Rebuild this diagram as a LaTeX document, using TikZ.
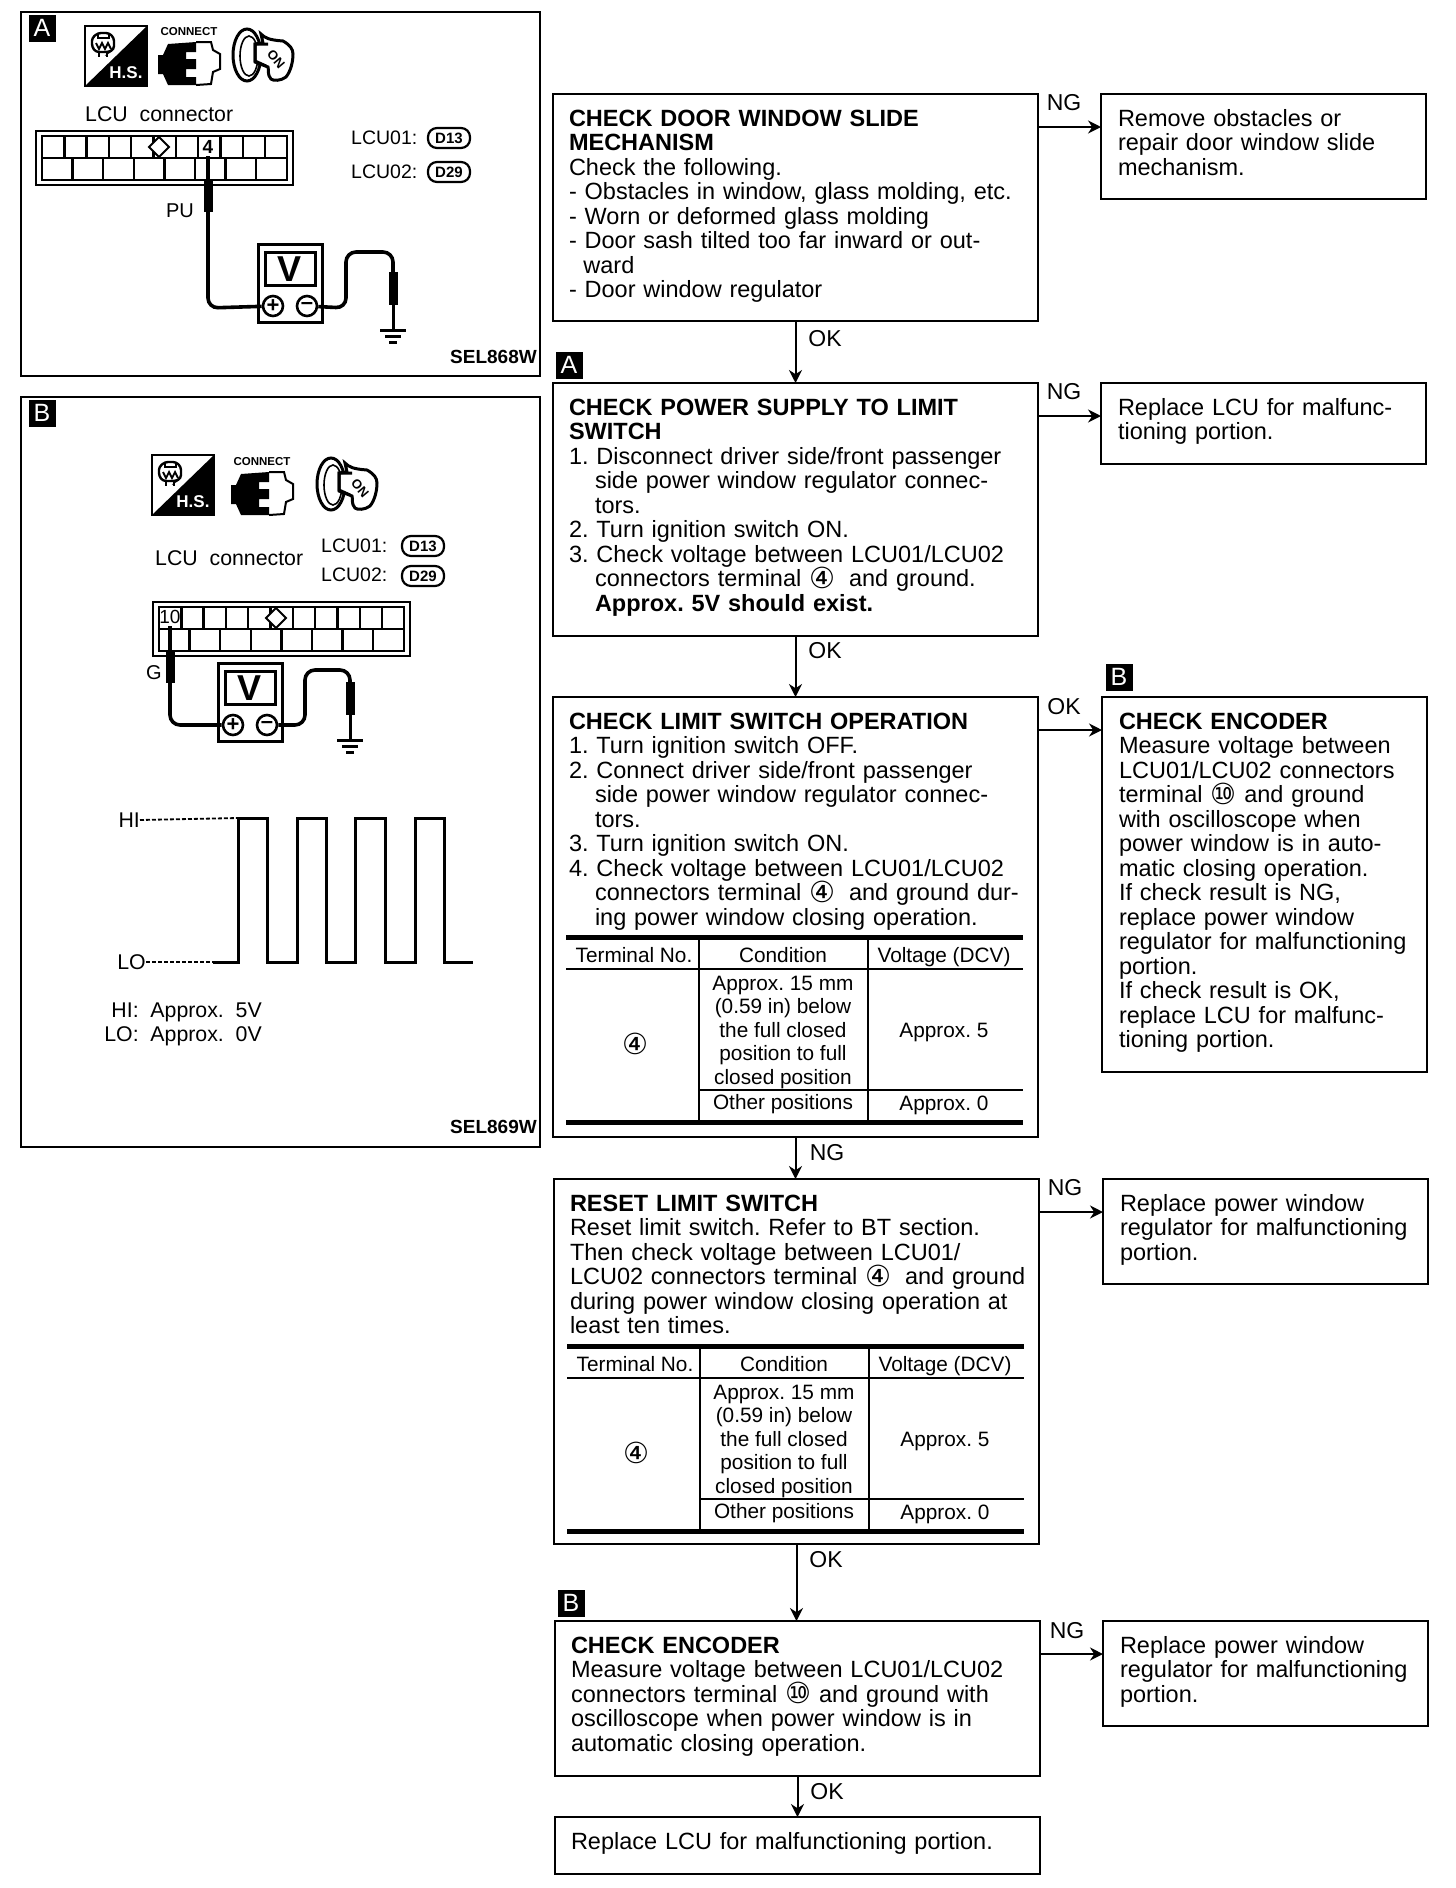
\documentclass[tikz,border=0pt]{standalone}
\usepackage{fontspec}
\setmainfont{Liberation Sans}
\newfontfamily\symfont{DejaVu Sans}
\newcommand{\termfour}{\smash{\raisebox{-1.5pt}{\symfont\fontsize{29}{24}\selectfont ④}}}
\newcommand{\termten}{\smash{\raisebox{-1.5pt}{\symfont\fontsize{29}{24}\selectfont ⑩}}}
\frenchspacing
\usetikzlibrary{arrows.meta}

\begin{document}
\begin{tikzpicture}[
        x=1pt, y=-1pt,
        >={Stealth[length=13pt,width=13pt]},
        panel/.style={draw, line width=2.6pt, anchor=north west, outer sep=0pt, inner sep=0pt},
        flowbox/.style={draw, line width=2pt, anchor=north west, outer sep=0pt, align=left,
            inner xsep=16pt, inner ysep=0pt, text height=32pt, text depth=#1pt-32pt, text width=453pt,
            font=\fontsize{23.5}{24.5}\selectfont},
        sidebox/.style={flowbox=#1, inner xsep=17pt, text width=291pt},
        tag/.style={font=\fontsize{23}{24}\selectfont, inner sep=0pt},
        flowline/.style={->, line width=2pt},
        badge/.style={fill=black, text=white, minimum size=27pt, inner sep=0pt,
            font=\fontsize{25}{25}\selectfont},
        plain/.style={font=\fontsize{21.3}{24}\selectfont, inner sep=0pt},
        sel/.style={anchor=east, inner sep=0pt, font=\fontsize{19}{19}\selectfont\bfseries},
        pill/.style={draw, line width=2.2pt, rounded corners=9pt, minimum width=42pt, minimum height=20pt,
            inner sep=0pt, font=\fontsize{15}{15}\selectfont\bfseries},
        wire/.style={line width=3.6pt, rounded corners=10pt},
        probe/.style={line width=9pt},
        cell/.style={font=\fontsize{20.8}{23.5}\selectfont, inner sep=0pt, align=center},
        lcuconn/.pic={
            \draw[line width=1.6pt] (0,0) rectangle (257,54);
            \draw[line width=2.4pt] (6,5) rectangle (251,49);
            \draw[line width=2.4pt] (6,27) -- (251,27);
            \foreach \i in {1,...,10} \draw[line width=2.4pt] (6+22.3*\i,5) -- (6+22.3*\i,27);
            \foreach \i in {1,...,7} \draw[line width=2.4pt] (6+30.6*\i,27) -- (6+30.6*\i,49);
            \draw[line width=2pt, fill=white] (123,6) -- (133,16) -- (123,26) -- (113,16) -- cycle;
        },
        meterbox/.pic={
            \draw[line width=3pt] (0,0) rectangle (64,78);
            \draw[line width=3pt] (7,8) rectangle (57,41);
            \node[inner sep=0pt, font=\fontsize{36}{36}\selectfont\bfseries] (-v) at (32,25) {V};
            \node[draw, circle, line width=2.6pt, minimum size=20pt, inner sep=0pt, fill=white,
                font=\fontsize{22}{22}\selectfont\bfseries] (-plus) at (15,62) {+};
            \node[draw, circle, line width=2.6pt, minimum size=20pt, inner sep=0pt, fill=white,
                font=\fontsize{22}{22}\selectfont\bfseries] (-minus) at (49,62) {\char"2013};
        },
        groundprobe/.pic={
            \draw[probe] (0,0) -- (0,33);
            \draw[line width=3pt] (0,33) -- (0,58);
            \draw[line width=3pt] (-13,58) -- (13,58);
            \draw[line width=3pt] (-8,64) -- (8,64);
            \draw[line width=3pt] (-4,70) -- (4,70);
        },
        hsicon/.pic={
            \draw[line width=2pt] (0,0) rectangle (62,60);
            \fill (0,60) -- (62,0) -- (62,60) -- cycle;
            \node[inner sep=0pt, text=white, font=\fontsize{17}{17}\selectfont\bfseries] (-hs) at (41,47) {H.S.};
            \draw[line width=2.4pt, rounded corners=3pt] (7,12) -- (13,7) -- (24,7) -- (29,12) -- (29,23) -- (24,26) -- (11,26) -- (7,21) -- cycle;
            \draw[line width=1.8pt] (11,17) -- (14,23) -- (17,17) -- (20,23) -- (23,17) -- (26,23);
            \draw[line width=1.8pt] (14,26) -- (14,31) (22,26) -- (22,31);
            \draw[line width=1.8pt] (13,7) -- (13,12) -- (24,12) -- (24,7);
        },
        connecticon/.pic={
            \node[inner sep=0pt, font=\fontsize{11.5}{12}\selectfont\bfseries] (-label) at (31,-10) {CONNECT};
            \draw[line width=2pt] (38,0) -- (53,0) -- (55,8) -- (62,12) -- (62,27) -- (55,30) -- (53,42) -- (38,43);
            \fill (0,13) -- (5,13) -- (10,2) -- (38,0) -- (38,10) -- (28,10) -- (28,17) -- (38,17) -- (38,27) -- (28,27)
                -- (28,35) -- (38,35) -- (38,43) -- (10,43) -- (5,32) -- (0,32) -- cycle;
        },
        keyicon/.pic={
            \draw[line width=3pt] (14,26) ellipse (14 and 26);
            \draw[line width=1.6pt] (16,27) ellipse (9 and 20);
            \draw[line width=3pt, fill=white] (28,5) .. controls (32,9) and (36,11) .. (50,12)
                .. controls (57,16) and (60,20) .. (60,25) .. controls (60,32) and (58,42) .. (53,48)
                .. controls (48,52) and (40,52) .. (38,50) .. controls (34,46) and (36,40) .. (35,38)
                -- (22,33) -- (22,15) -- (30,14) -- cycle;
            \draw[line width=3pt] (35,15) -- (22,15) -- (22,32) -- (33,37);
            \node[inner sep=0pt, rotate=-50, font=\fontsize{13}{13}\selectfont\bfseries] (-on) at (43,30) {ON};
        },
        voltable/.pic={
            \draw[line width=5pt] (0,0) -- (457,0);
            \draw[line width=5pt] (0,185) -- (457,185);
            \draw[line width=2.4pt] (0,32) -- (457,32);
            \draw[line width=2.4pt] (133,153) -- (457,153);
            \draw[line width=2.4pt] (133,0) -- (133,185);
            \draw[line width=2.4pt] (302,0) -- (302,185);
            \node[cell] (-term) at (68,18) {Terminal No.};
            \node[cell] (-cond) at (217,18) {Condition};
            \node[cell] (-volt) at (378,20) {Voltage (DCV)};
            \node[cell] (-four) at (69,116) {\termfour};
            \node[cell] (-range) at (217,95) {Approx. 15 mm\\(0.59 in) below\\the full closed\\position to full\\closed position};
            \node[cell] (-other) at (217,167) {Other positions};
            \node[cell] (-five) at (378,95) {Approx. 5};
            \node[cell] (-zero) at (378,168) {Approx. 0};
        }
    ]
        \useasboundingbox (0,0) rectangle (1456,1888);

        % panel A
        \node[panel, minimum width=519pt, minimum height=364pt] (panela) at (21,12) {};
        \node[badge] (badgea) at (42,28) {A};
        \pic (hsa) at (85,26) {hsicon};
        \pic (conna) at (158,42) {connecticon};
        \pic (keya) at (233,29) {keyicon};
        \node[plain, anchor=west] (lcua) at (85,114) {LCU\ \ connector};
        \pic at (36,131) {lcuconn};
        \node[plain, font=\fontsize{19}{19}\selectfont\bfseries] (foura) at (208,147) {4};
        \node[plain, anchor=west, font=\fontsize{19.5}{20}\selectfont] (lcu01a) at (351,138) {LCU01:};
        \node[pill] (d13a) at (449,138) {D13};
        \node[plain, anchor=west, font=\fontsize{19.5}{20}\selectfont] (lcu02a) at (351,172) {LCU02:};
        \node[pill] (d29a) at (449,172) {D29};
        \node[plain, font=\fontsize{20}{20}\selectfont] (pu) at (180,211) {PU};
        \coordinate (pina) at (208,156);
        \coordinate (gnda) at (393,272);
        \pic (ma) at (258,244) {meterbox};
        \pic at (gnda) {groundprobe};
        \draw[probe] (208,180) -- (208,212);
        \draw[wire] (pina) -- (208,308) -- (ma-plus);
        \draw[wire] (ma-minus) -- (346,308) -- (346,252) -- (393,252) -- (gnda);
        \node[sel] (sela) at (537,357) {SEL868W};

        % panel B
        \node[panel, minimum width=519pt, minimum height=750pt] (panelb) at (21,397) {};
        \node[badge] (badgeb) at (42,413) {B};
        \pic (hsb) at (152,455) {hsicon};
        \pic (connb) at (231,472) {connecticon};
        \pic (keyb) at (317,458) {keyicon};
        \node[plain, anchor=west] (lcub) at (155,558) {LCU\ \ connector};
        \node[plain, anchor=west, font=\fontsize{19.5}{20}\selectfont] (lcu01b) at (321,546) {LCU01:};
        \node[pill] (d13b) at (423,546) {D13};
        \node[plain, anchor=west, font=\fontsize{19.5}{20}\selectfont] (lcu02b) at (321,575) {LCU02:};
        \node[pill] (d29b) at (423,576) {D29};
        \pic at (153,602) {lcuconn};
        \node[plain, font=\fontsize{19}{19}\selectfont] (tenb) at (170,617) {10};
        \node[plain, font=\fontsize{20}{20}\selectfont] (g) at (154,673) {G};
        \coordinate (pinb) at (170,626);
        \coordinate (gndb) at (350,682);
        \pic (mb) at (218,663) {meterbox};
        \pic at (gndb) {groundprobe};
        \draw[probe] (170,652) -- (170,683);
        \draw[wire] (pinb) -- (170,725) -- (mb-plus);
        \draw[wire] (mb-minus) -- (305,725) -- (305,670) -- (350,670) -- (gndb);

        % waveform
        \node[plain, anchor=east] (hi) at (140,820) {HI};
        \node[plain, anchor=east] (lo) at (146,962) {LO};
        \coordinate (hirise) at (238,818);
        \coordinate (losolid) at (213,962);
        \draw[line width=1.8pt, dash pattern=on 4pt off 2pt] (hi.east) -- (hirise);
        \draw[line width=1.8pt, dash pattern=on 4pt off 2pt] (lo.east) -- (losolid);
        \draw[line width=3pt] (losolid) -- (238,962) -- (hirise) -- (267,818) -- (267,962) -- (297,962) -- (297,818)
            -- (326,818) -- (326,962) -- (355,962) -- (355,818) -- (385,818) -- (385,962) -- (415,962) -- (415,818)
            -- (444,818) -- (444,962) -- (473,962);
        \node[plain, align=right, anchor=east] (levels) at (262,1024) {HI:\ \ Approx.\ \ 5V\\LO:\ \ Approx.\ \ 0V};
        \node[sel] (selb) at (537,1127) {SEL869W};

        % flow chart
        \node[flowbox=227] (door) at (553,94) {\textbf{CHECK DOOR WINDOW SLIDE}\\\textbf{MECHANISM}\\Check the following.\\- Obstacles in window, glass molding, etc.\\- Worn or deformed glass molding\\- Door sash tilted too far inward or out-\\\hspace*{14.4pt}ward\\- Door window regulator};
        \node[sidebox=105] (ngdoor) at (1101,94) {Remove obstacles or\\repair door window slide\\mechanism.};
        \node[badge] (badgepower) at (569,365) {A};
        \node[flowbox=253] (power) at (553,383) {\textbf{CHECK POWER SUPPLY TO LIMIT}\\\textbf{SWITCH}\\1. Disconnect driver side/front passenger\\\hspace*{26pt}side power window regulator connec-\\\hspace*{26pt}tors.\\2. Turn ignition switch ON.\\3. Check voltage between LCU01/LCU02\\\hspace*{26pt}connectors terminal \termfour\hspace{6pt}\ and ground.\\\hspace*{26pt}\textbf{Approx. 5V should exist.}};
        \node[sidebox=81] (ngpower) at (1101,383) {Replace LCU for malfunc-\\tioning portion.};
        \node[flowbox=440] (limit) at (553,697) {\textbf{CHECK LIMIT SWITCH OPERATION}\\1. Turn ignition switch OFF.\\2. Connect driver side/front passenger\\\hspace*{26pt}side power window regulator connec-\\\hspace*{26pt}tors.\\3. Turn ignition switch ON.\\4. Check voltage between LCU01/LCU02\\\hspace*{26pt}\mbox{connectors terminal \termfour\hspace{6pt}\ and ground dur-}\\\hspace*{26pt}ing power window closing operation.};
        \pic (tablelimit) at (566,937) {voltable};
        \node[badge] (badgeenc) at (1119,677) {B};
        \node[sidebox=375] (encoder) at (1102,697) {\textbf{CHECK ENCODER}\\Measure voltage between\\LCU01/LCU02 connectors\\terminal \termten\ and ground\\with oscilloscope when\\power window is in auto-\\matic closing operation.\\If check result is NG,\\replace power window\\\mbox{regulator for malfunctioning}\\portion.\\If check result is OK,\\replace LCU for malfunc-\\tioning portion.};
        \node[flowbox=365] (reset) at (554,1179) {\textbf{RESET LIMIT SWITCH}\\Reset limit switch. Refer to BT section.\\Then check voltage between LCU01/\\\mbox{LCU02 connectors terminal \termfour\hspace{6pt}\ and ground}\\during power window closing operation at\\least ten times.};
        \pic (tablereset) at (567,1346) {voltable};
        \node[sidebox=105] (ngreset) at (1103,1179) {Replace power window\\\mbox{regulator for malfunctioning}\\portion.};
        \node[badge] (badgeenctwo) at (571,1603) {B};
        \node[flowbox=155] (enctwo) at (555,1621) {\textbf{CHECK ENCODER}\\Measure voltage between LCU01/LCU02\\connectors terminal \termten\ and ground with\\oscilloscope when power window is in\\automatic closing operation.};
        \node[sidebox=105] (ngenc) at (1103,1621) {Replace power window\\\mbox{regulator for malfunctioning}\\portion.};
        \node[flowbox=57] (final) at (555,1817) {Replace LCU for malfunctioning portion.};

        \draw[flowline] (door.south) -- (door.south |- power.north);
        \draw[flowline] (power.south) -- (power.south |- limit.north);
        \draw[flowline] (limit.south) -- (limit.south |- reset.north);
        \draw[flowline] (reset.south) -- (reset.south |- enctwo.north);
        \draw[flowline] (enctwo.south) -- (enctwo.south |- final.north);
        \draw[flowline] ([yshift=-33pt]door.north east) -- ([yshift=-33pt]ngdoor.north west);
        \draw[flowline] ([yshift=-33pt]power.north east) -- ([yshift=-33pt]ngpower.north west);
        \draw[flowline] ([yshift=-33pt]limit.north east) -- ([yshift=-33pt]encoder.north west);
        \draw[flowline] ([yshift=-33pt]reset.north east) -- ([yshift=-33pt]ngreset.north west);
        \draw[flowline] ([yshift=-33pt]enctwo.north east) -- ([yshift=-33pt]ngenc.north west);

        \node[tag] (ng1) at (1064,103) {NG};
        \node[tag] (ok1) at (825,339) {OK};
        \node[tag] (ng2) at (1064,392) {NG};
        \node[tag] (ok2) at (825,651) {OK};
        \node[tag] (ok3) at (1064,707) {OK};
        \node[tag] (ng3) at (827,1153) {NG};
        \node[tag] (ng4) at (1065,1188) {NG};
        \node[tag] (ok4) at (826,1560) {OK};
        \node[tag] (ng5) at (1067,1631) {NG};
        \node[tag] (ok5) at (827,1792) {OK};
    \end{tikzpicture}
\end{document}
